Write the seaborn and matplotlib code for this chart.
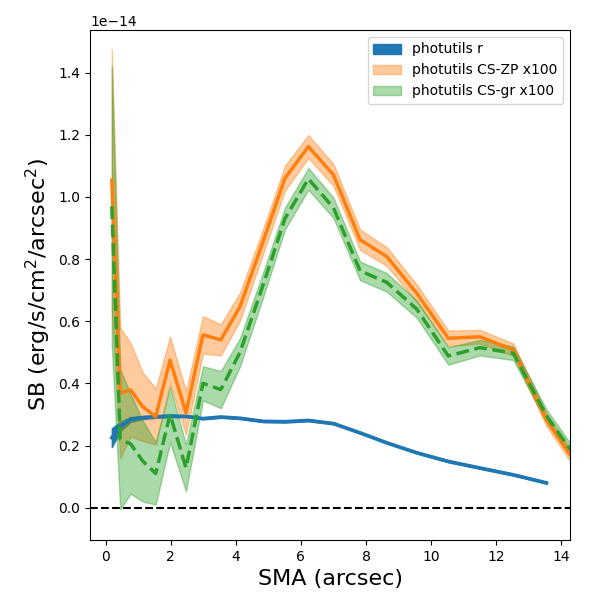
import numpy as np
import pandas as pd
import matplotlib
matplotlib.use("Agg")
import matplotlib.pyplot as plt
import seaborn as sns

# Surface brightness profiles, values in units of 1e-14 erg/s/cm^2/arcsec^2
sma = [0.19, 0.45, 0.77, 1.14, 1.54, 1.98, 2.47, 2.99, 3.54, 4.13, 4.85,
       5.51, 6.23, 7.0, 7.82, 8.64, 9.56, 10.53, 11.5, 12.53, 13.55]
sma_cs = sma + [14.6]

sb_r = [0.225, 0.262, 0.284, 0.29, 0.293, 0.295, 0.294, 0.287, 0.292, 0.288, 0.278,
        0.277, 0.281, 0.271, 0.241, 0.209, 0.177, 0.149, 0.128, 0.106, 0.08]
err_r = [0.03, 0.015, 0.008, 0.005, 0.004, 0.004, 0.003, 0.003, 0.003, 0.003, 0.003,
         0.003, 0.003, 0.003, 0.003, 0.003, 0.003, 0.003, 0.003, 0.003, 0.003]

sb_zp = [1.054, 0.369, 0.379, 0.325, 0.293, 0.475, 0.305, 0.556, 0.54, 0.647, 0.86,
         1.06, 1.162, 1.071, 0.862, 0.808, 0.69, 0.545, 0.55, 0.508, 0.282, 0.12]
err_zp = [0.42, 0.21, 0.15, 0.11, 0.09, 0.075, 0.07, 0.06, 0.05, 0.045, 0.04,
          0.04, 0.037, 0.035, 0.033, 0.03, 0.028, 0.025, 0.022, 0.02, 0.02, 0.02]

sb_gr = [0.97, 0.22, 0.205, 0.15, 0.11, 0.30, 0.128, 0.40, 0.38, 0.50, 0.72,
         0.93, 1.058, 0.965, 0.762, 0.725, 0.639, 0.488, 0.515, 0.497, 0.295, 0.14]
err_gr = [0.45, 0.225, 0.16, 0.13, 0.1, 0.09, 0.075, 0.055, 0.06, 0.045, 0.04,
          0.035, 0.035, 0.033, 0.03, 0.03, 0.028, 0.028, 0.025, 0.022, 0.02, 0.02]

scale = 1e-14
df_r = pd.DataFrame({"sma": sma, "sb": np.array(sb_r) * scale, "err": np.array(err_r) * scale})
df_zp = pd.DataFrame({"sma": sma_cs, "sb": np.array(sb_zp) * scale, "err": np.array(err_zp) * scale})
df_gr = pd.DataFrame({"sma": sma_cs, "sb": np.array(sb_gr) * scale, "err": np.array(err_gr) * scale})

fig, ax = plt.subplots(figsize=(6, 6), dpi=100)
fig.subplots_adjust(left=0.15, right=0.95, top=0.95, bottom=0.1)

# photutils r
ax.fill_between(df_r["sma"], df_r["sb"] - df_r["err"], df_r["sb"] + df_r["err"],
                color="C0", alpha=1.0, label="photutils r")
sns.lineplot(data=df_r, x="sma", y="sb", ax=ax, color="C0", lw=2.5,
             estimator=None, sort=False)

# CS-ZP x100
ax.fill_between(df_zp["sma"], df_zp["sb"] - df_zp["err"], df_zp["sb"] + df_zp["err"],
                color="C1", alpha=0.4, label="photutils CS-ZP x100")
sns.lineplot(data=df_zp, x="sma", y="sb", ax=ax, color="C1", lw=2.5,
             estimator=None, sort=False)

# CS-gr x100
ax.fill_between(df_gr["sma"], df_gr["sb"] - df_gr["err"], df_gr["sb"] + df_gr["err"],
                color="C2", alpha=0.4, label="photutils CS-gr x100")
sns.lineplot(data=df_gr, x="sma", y="sb", ax=ax, color="C2", lw=2.5, ls="--",
             estimator=None, sort=False)

ax.axhline(0, color="k", ls="--", lw=1.5)

ax.set_xlim(-0.48, 14.27)
ax.set_ylim(-0.104e-14, 1.537e-14)
ax.set_xlabel("SMA (arcsec)", fontsize=16)
ax.set_ylabel("SB (erg/s/cm$^2$/arcsec$^2$)", fontsize=16)
ax.legend(loc="upper right")

fig.savefig("out.png", dpi=100)
